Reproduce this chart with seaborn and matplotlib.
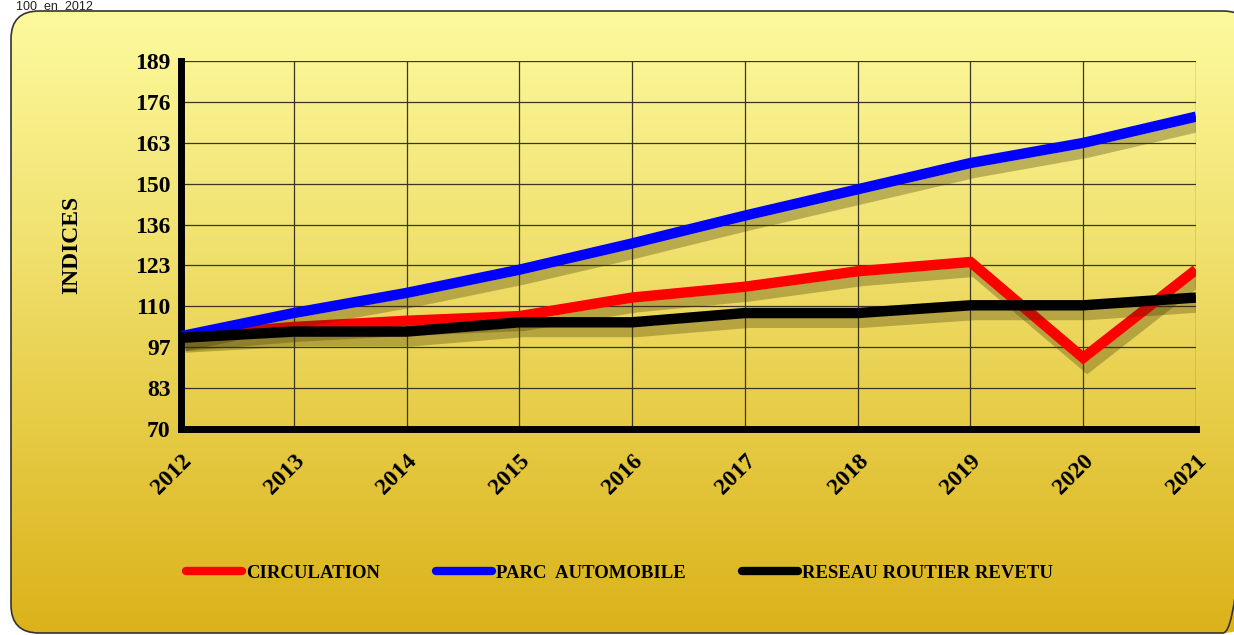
import numpy as np
import pandas as pd
import matplotlib
matplotlib.use('Agg')
import matplotlib.pyplot as plt
import seaborn as sns
from matplotlib.patches import FancyBboxPatch
from matplotlib import patheffects as pe
from matplotlib.colors import LinearSegmentedColormap

years = [2012, 2013, 2014, 2015, 2016, 2017, 2018, 2019, 2020, 2021]
circulation = [100, 103, 105, 106.5, 112.5, 116, 121, 124, 93, 121.5]
parc_auto = [100, 107.5, 114, 121.5, 130, 139, 147.5, 156, 162.5, 171]
reseau = [99.5, 101.5, 101.5, 104.5, 104.5, 107.5, 107.5, 110, 110, 112.5]
series_names = ["CIRCULATION", "PARC  AUTOMOBILE", "RESEAU ROUTIER REVETU"]
series_colors = ["#ff0000", "#0000ff", "#000000"]
y_ticks = np.linspace(70, 189, 10)
y_labels = ["70", "83", "97", "110", "123", "136", "150", "163", "176", "189"]

df = pd.DataFrame({
    "annee": years * 3,
    "indice": circulation + parc_auto + reseau,
    "serie": [series_names[0]] * 10 + [series_names[1]] * 10 + [series_names[2]] * 10,
})

sns.set_style("white")
plt.rcParams['font.family'] = ['Liberation Serif', 'DejaVu Serif']
plt.rcParams['text.color'] = 'black'
plt.rcParams['xtick.color'] = 'black'
plt.rcParams['ytick.color'] = 'black'
plt.rcParams['axes.labelcolor'] = 'black'

fig = plt.figure(figsize=(12.34, 6.35), dpi=100)

# gradient panel with rounded corners
bg = fig.add_axes([0, 0, 1, 1], zorder=-5)
bg.set_xlim(0, 1234)
bg.set_ylim(635, 0)
bg.axis('off')
cmap = LinearSegmentedColormap.from_list("gold", ["#fdfa9e", "#f2e475", "#e6cb45", "#dbb21a"])
grad = np.linspace(0, 1, 256).reshape(-1, 1)
im = bg.imshow(grad, extent=[10, 1234, 635, 10], aspect='auto', cmap=cmap, zorder=0)
box = FancyBboxPatch((11, 11), 1240, 622, boxstyle="round,pad=0,rounding_size=28",
                     fc='none', ec='#333333', lw=1.2, zorder=1)
bg.add_patch(box)
im.set_clip_path(box)
fig.text(0.013, 0.999, "100  en  2012", family='Liberation Sans', fontsize=9,
         color='#222222', va='top', ha='left')

ax = fig.add_axes([181 / 1234, 1 - 429 / 635, (1196 - 181) / 1234, (429 - 61) / 635])
ax.patch.set_alpha(0)

sns.lineplot(data=df, x="annee", y="indice", hue="serie", hue_order=series_names,
             palette=series_colors, linewidth=7.5, ax=ax, legend=False, zorder=3)
for line in ax.get_lines():
    line.set_path_effects([pe.SimpleLineShadow(offset=(3, -7), shadow_color='#3a3000', alpha=0.3),
                           pe.Normal()])
    line.set_solid_capstyle('butt')
    line.set_solid_joinstyle('miter')

ax.set_xlim(2012, 2021)
ax.set_ylim(70, 189)
ax.set_yticks(y_ticks)
ax.set_yticklabels(y_labels)
ax.set_xticks(years)
ax.set_xticklabels([str(y) for y in years], rotation=45, ha='right', rotation_mode='anchor')
ax.set_xticks([y + 0.5 for y in years[:-1]], minor=True)
ax.grid(True, which='major', color='#3a3520', lw=0.9)
for s in ['top', 'right']:
    ax.spines[s].set_visible(False)
for s in ['left', 'bottom']:
    ax.spines[s].set_linewidth(5)
    ax.spines[s].set_color('black')
ax.tick_params(axis='both', which='major', direction='inout', length=13, width=4, labelsize=17)
ax.tick_params(axis='x', which='minor', direction='in', length=6, width=4)
ax.tick_params(axis='x', pad=9)
ax.tick_params(axis='y', pad=1)
for lab in ax.get_xticklabels() + ax.get_yticklabels():
    lab.set_fontweight('bold')
ax.set_xlabel("")
ax.set_ylabel("INDICES", fontsize=17, fontweight='bold', labelpad=38)

handles = [plt.Line2D([], [], color=c, lw=6, solid_capstyle='round') for c in series_colors]
fig.legend(handles, series_names, loc='center', bbox_to_anchor=(0.502, 1 - 573 / 635), ncol=3,
           frameon=False, prop={'weight': 'bold', 'size': 13.5}, handlelength=3.0,
           handletextpad=0.2, columnspacing=3.0)

fig.savefig("out.png", dpi=100)
print("Saved: out.png")
